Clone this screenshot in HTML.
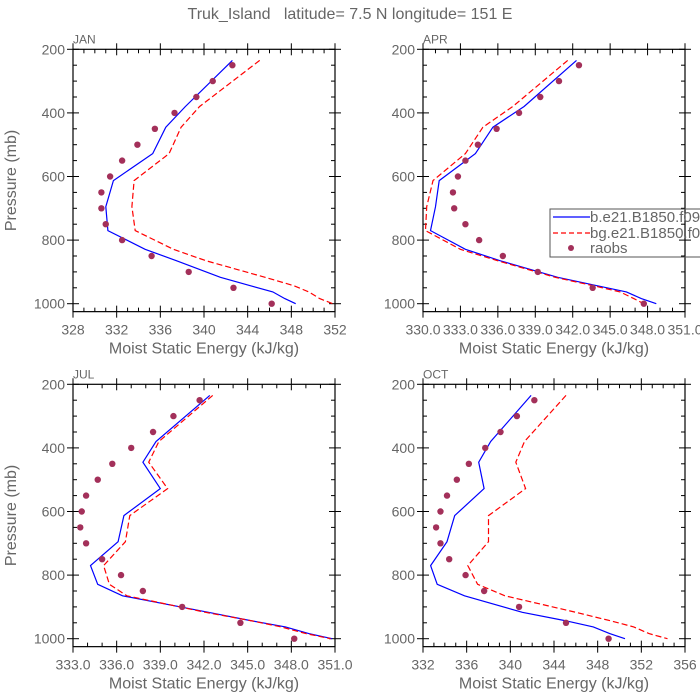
<!DOCTYPE html>
<html><head><meta charset="utf-8">
<style>
html,body{margin:0;padding:0;background:#fff;}
svg{display:block;font-family:"Liberation Sans",sans-serif;}
text{white-space:pre;}
</style></head>
<body>
<svg id="chart" width="700" height="700" viewBox="0 0 700 700">
<rect x="0" y="0" width="700" height="700" fill="#fff"/>
<text x="350" y="19" text-anchor="middle" font-size="16" fill="#666" xml:space="preserve">Truk_Island   latitude= 7.5 N longitude= 151 E</text>
</svg>
<script>
// Shared data
const modelLevels = [235, 380, 445, 528, 613, 695, 770, 829, 865, 917, 943, 963, 984, 1000];
const obsLevels = [250,300,350,400,450,500,550,600,650,700,750,800,850,900,950,1000];
const panelNames = ['JAN','APR','JUL','OCT'];
const xMins = [328, 330, 333, 332];
const xMaxs = [352, 351, 351, 356];
const xSteps = [4, 3, 3, 4];
const xDecimals = [0, 1, 1, 0];
const blueJAN = [342.6,338.3,336.5,335.3,331.7,331.0,331.2,334.6,337.5,341.5,344.2,346.3,347.4,348.4];
const redJAN  = [345.1,339.6,337.9,336.8,333.6,333.4,333.7,337.2,340.2,345.6,348.2,349.6,350.6,351.8];
const obsJAN  = [342.6,340.8,339.3,337.3,335.5,333.9,332.5,331.4,330.6,330.6,331.0,332.5,335.2,338.6,342.7,346.2];
const blueAPR = [342.3,338.1,335.6,334.2,331.3,331.0,330.6,333.4,336.2,340.8,343.9,346.3,347.5,348.7];
const redAPR  = [341.6,337.2,334.8,333.4,330.8,330.3,330.2,333.0,336.0,340.6,343.6,345.8,346.9,347.7];
const obsAPR  = [342.5,340.9,339.4,337.7,335.9,334.4,333.4,332.8,332.4,332.5,333.4,334.5,336.4,339.2,343.6,347.7];
const blueJUL = [342.4,338.7,337.8,339.0,336.5,336.1,334.2,334.7,336.4,342.3,345.2,347.6,349.2,350.8];
const redJUL  = [342.6,338.9,338.2,339.5,336.9,336.6,335.1,335.5,336.7,342.1,345.2,347.3,349.0,350.7];
const obsJUL  = [341.7,339.9,338.5,337.0,335.7,334.7,333.9,333.6,333.5,333.9,335.0,336.3,337.8,340.5,344.5,348.2];
const blueOCT = [341.9,338.2,337.1,337.6,334.9,334.2,332.7,333.3,335.8,341.1,345.0,347.6,349.1,350.5];
const redOCT  = [345.1,341.3,340.5,341.4,338.0,338.0,336.1,337.0,339.5,346.0,349.1,351.3,352.7,354.4];
const obsOCT  = [342.2,340.6,339.1,337.7,336.2,335.1,334.2,333.6,333.2,333.6,334.4,335.9,337.6,340.8,345.1,349.0];
const blueSeries = [blueJAN, blueAPR, blueJUL, blueOCT];
const redSeries = [redJAN, redAPR, redJUL, redOCT];
const obsSeries = [obsJAN, obsAPR, obsJUL, obsOCT];
const yTicks = [200,400,600,800,1000];

const NS='http://www.w3.org/2000/svg';
const svg=document.getElementById('chart');
const GRAY='#666';
function mk(tag,attrs,parent){const e=document.createElementNS(NS,tag);for(const k in attrs)e.setAttribute(k,attrs[k]);(parent||svg).appendChild(e);return e;}

const origins=[[73,49.3],[423,49.3],[73,384.3],[423,384.3]];
const W=262, PXMB=0.318;
for(let i=0;i<4;i++){
  const [x0,y0]=origins[i];
  const xmin=xMins[i], xmax=xMaxs[i];
  const sx=v=>x0+(v-xmin)/(xmax-xmin)*W;
  const sy=p=>y0+(p-200)*PXMB;
  const yb=sy(1025);
  const g=mk('g',{});
  
  
  const frame=mk('rect',{x:x0,y:y0,width:W,height:yb-y0,fill:'none',stroke:'#000','stroke-width':1.2},g);
  
  
  const lbl=mk('text',{x:x0,y:y0-6,'font-size':12,fill:GRAY},g);
  lbl.textContent=panelNames[i];
  
  
  for(let p=200;p<=1000;p+=50){
    const y=sy(p); const major=(p%200===0);
    const L=major?6:4;
    mk('line',{x1:x0-(major?6:0),x2:x0+L,y1:y,y2:y,stroke:'#000','stroke-width':1},g);
    mk('line',{x1:x0+W-L,x2:x0+W+(major?6:0),y1:y,y2:y,stroke:'#000','stroke-width':1},g);
  }
  yTicks.forEach(p=>{
    const t=mk('text',{x:x0-8,y:sy(p)+5,'text-anchor':'end','font-size':14,fill:GRAY},g);
    t.textContent=p;
    
    
  });
  const nMaj=Math.round((xmax-xmin)/xSteps[i]);
  for(let k=0;k<=nMaj;k++){
    const v=xmin+k*xSteps[i]; const x=sx(v);
    mk('line',{x1:x,x2:x,y1:yb-6,y2:yb+6,stroke:'#000','stroke-width':1},g);
    mk('line',{x1:x,x2:x,y1:y0-6,y2:y0+6,stroke:'#000','stroke-width':1},g);
    const t=mk('text',{x:x,y:yb+23,'text-anchor':'middle','font-size':14,fill:GRAY},g);
    t.textContent=v.toFixed(xDecimals[i]);
    
    
    if(k<nMaj){
      for(let m=1;m<xSteps[i];m++){
        const xm=sx(v+m);
        mk('line',{x1:xm,x2:xm,y1:yb-4,y2:yb,stroke:'#000','stroke-width':1},g);
        mk('line',{x1:xm,x2:xm,y1:y0,y2:y0+4,stroke:'#000','stroke-width':1},g);
      }
    }
  }
  const xt=mk('text',{x:x0+W/2,y:yb+42,'text-anchor':'middle','font-size':16,fill:GRAY},g);
  xt.textContent='Moist Static Energy (kJ/kg)';
  
  
  if(i%2===0){
    const cy=(y0+yb)/2;
    const yt=mk('text',{x:16,y:cy,'text-anchor':'middle','font-size':16,fill:GRAY,transform:'rotate(-90 16 '+cy+')'},g);
    yt.textContent='Pressure (mb)';
    
    
  }
  const bp=modelLevels.map((p,k)=>sx(blueSeries[i][k]).toFixed(1)+','+sy(p).toFixed(1)).join(' ');
  const bl=mk('polyline',{points:bp,fill:'none',stroke:'#0000ff','stroke-width':1.2},g);
  
  
  const rp=modelLevels.map((p,k)=>sx(redSeries[i][k]).toFixed(1)+','+sy(p).toFixed(1)).join(' ');
  const rl=mk('polyline',{points:rp,fill:'none',stroke:'#ff0000','stroke-width':1.2,'stroke-dasharray':'6,3'},g);
  
  
  obsLevels.forEach((p,k)=>{
    const c=mk('circle',{cx:sx(obsSeries[i][k]),cy:sy(p),r:3.2,fill:'#a3305a'},g);
    
    
  });
}
const lg=mk('g',{});


mk('rect',{x:550,y:209,width:160,height:48,fill:'none',stroke:'#555','stroke-width':1},lg);
mk('line',{x1:553,x2:590,y1:217,y2:217,stroke:'#0000ff','stroke-width':1.2},lg);
mk('line',{x1:553,x2:590,y1:233,y2:233,stroke:'#ff0000','stroke-width':1.2,'stroke-dasharray':'5,3'},lg);
mk('circle',{cx:571,cy:248,r:3,fill:'#a3305a'},lg);
const lt=[['b.e21.B1850.f09',222],['bg.e21.B1850.f09',238],['raobs',253]];
lt.forEach(([s,y])=>{
  const t=mk('text',{x:590,y:y,'font-size':15,fill:GRAY},lg);
  t.textContent=s;
  
  
});
</script>
</body></html>
